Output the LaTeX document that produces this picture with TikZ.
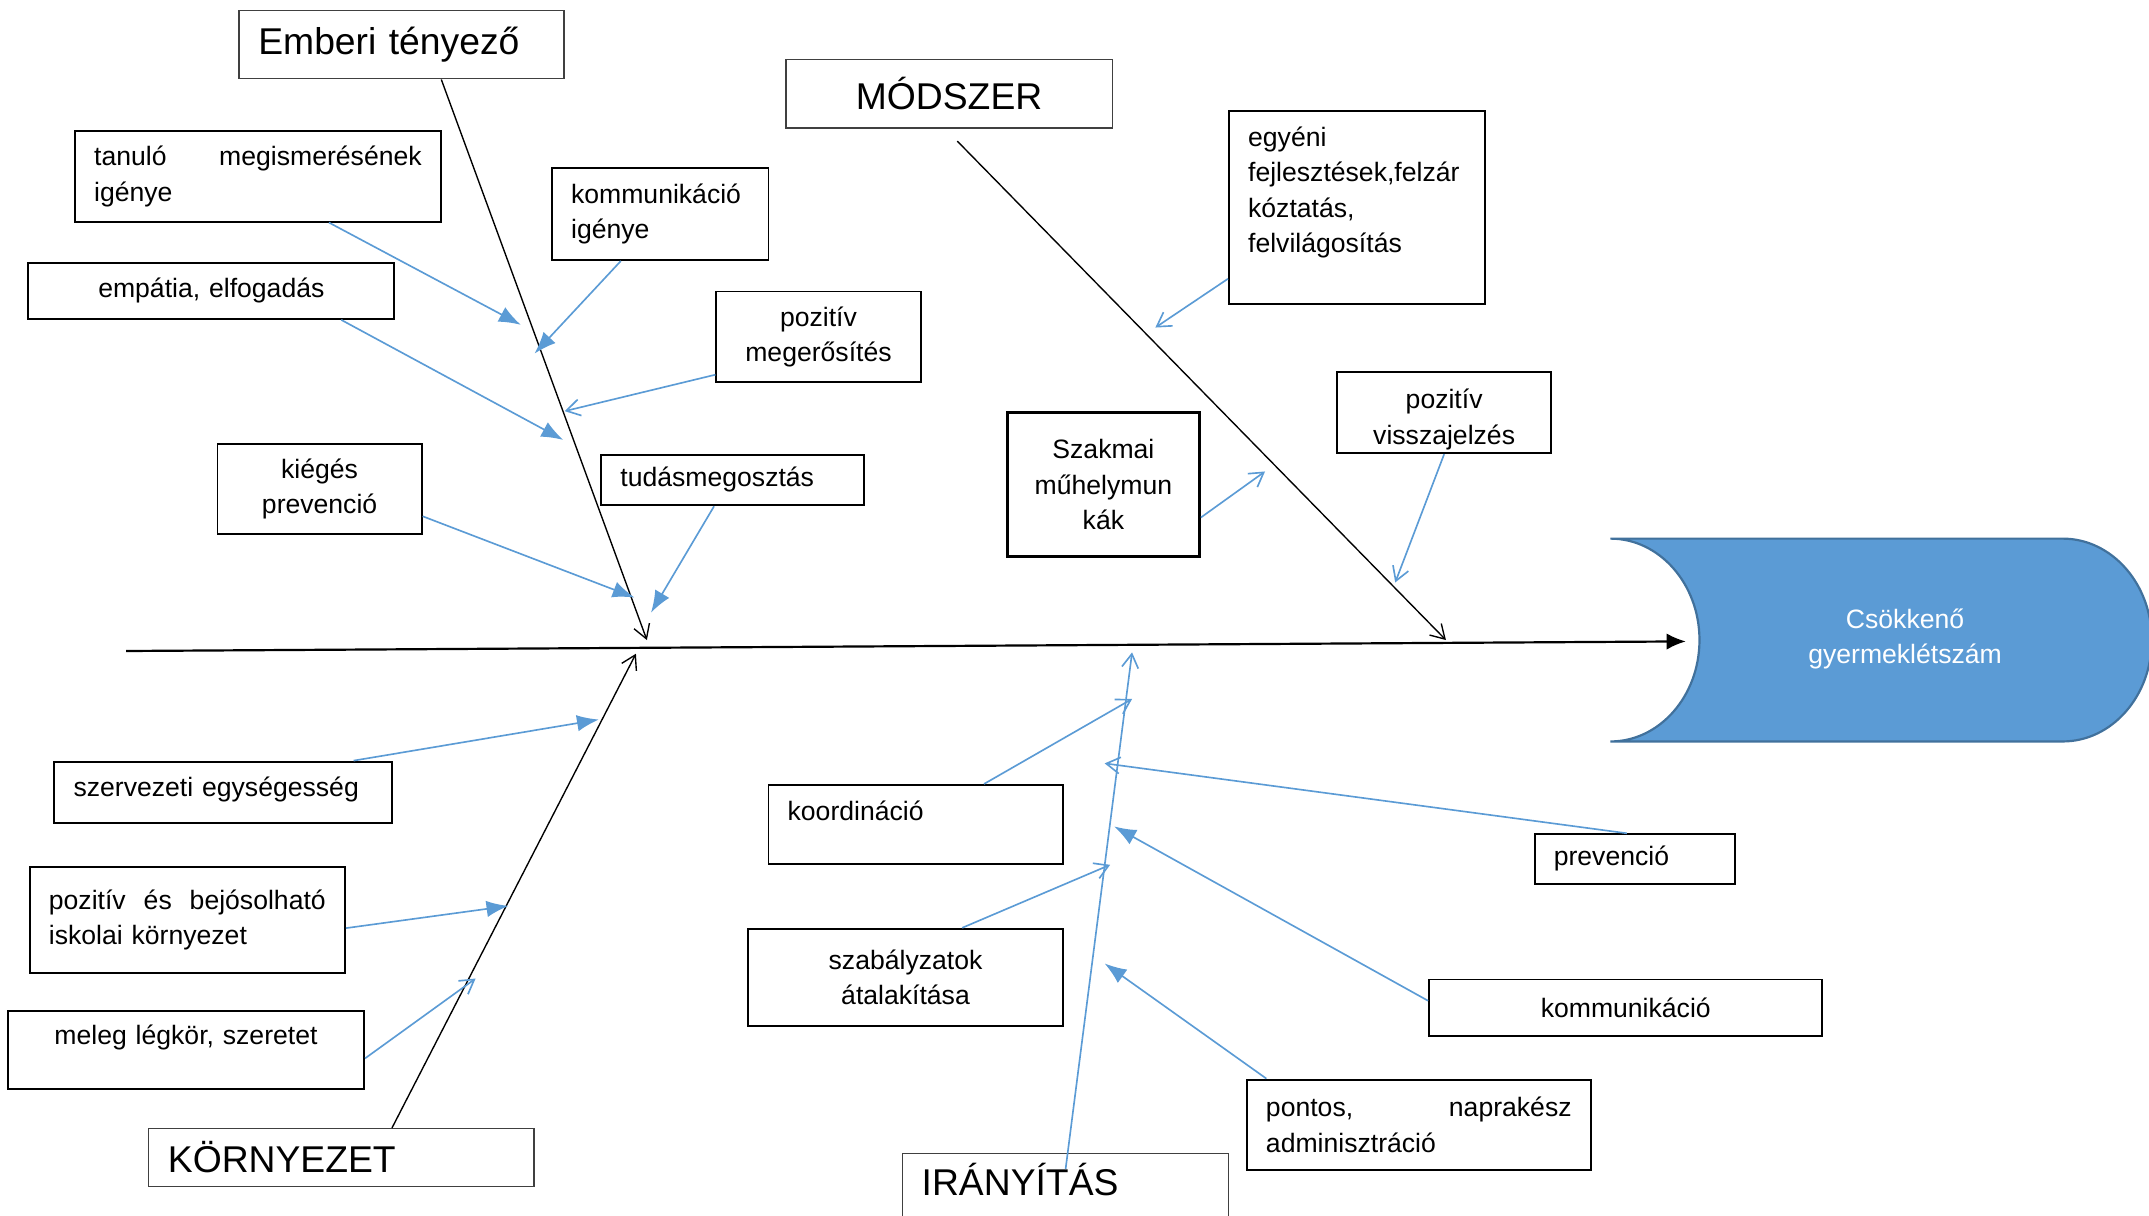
\documentclass[tikz,border=0pt]{standalone}
\usepackage{fontspec}
\setmainfont{Liberation Sans}
\usetikzlibrary{arrows.meta}
\definecolor{twigblue}{HTML}{5B9BD5}
\definecolor{edgeblue}{HTML}{41719C}
\newcommand\boxfont{\fontsize{9.7}{12.9}\selectfont}
\newcommand\headfont{\fontsize{13.6}{16}\selectfont}

\begin{document}
\begin{tikzpicture}[x=0.5pt,y=-0.5pt,
    box/.style={draw,line width=0.7pt,anchor=north west,inner xsep=7pt,inner ysep=0pt,font=\boxfont},
    head/.style={box,draw=black!75,line width=0.5pt,font=\headfont},
    bone/.style={line width=0.5pt,-{Straight Barb[length=5pt,width=6pt]}},
    twig/.style={twigblue,line width=0.6pt,-{Latex[length=8pt,width=6pt]}},
    opentwig/.style={twigblue,line width=0.6pt,-{Straight Barb[length=5pt,width=6pt]}}]
\useasboundingbox (0,0) rectangle (1568,887);
% result
\draw[fill=twigblue,draw=edgeblue,line width=0.8pt] (1175,393) -- (1505,393)
    arc[start angle=90,end angle=-90,x radius=32.5pt,y radius=37pt] -- (1175,541)
    arc[start angle=-90,end angle=90,x radius=32.5pt,y radius=37pt] -- cycle;
\node[font=\boxfont,text=white,align=center] (result) at (1390,466) {Csökkenő\\gyermeklétszám};
% spine
\coordinate (tail) at (92,475);
\coordinate (head) at (1230,468);
\draw[line width=0.8pt,-{Latex[length=7pt,width=6pt]}] (tail) -- (head);
% categories
\node[head,text width=104.5pt,minimum height=25pt,align=left] (emberi) at (174,7) {Emberi tényező};
\node[head,text width=105pt,minimum height=25pt,align=center] (modszer) at (573,43) {MÓDSZER};
\node[head,text width=126.5pt,minimum height=21pt,align=left] (kornyezet) at (108,823) {KÖRNYEZET};
\node[head,text width=105pt,minimum height=23pt,text depth=4pt,align=left] (iranyitas) at (658,841) {IRÁNYÍTÁS};
% causes
\node[box,text width=119.5pt,minimum height=33pt,align=left] (tanulo) at (54,95) {tanuló\hfill megismerésének\\igénye};
\node[box,text width=65pt,minimum height=33.5pt,align=left] (kommig) at (402,122) {kommunikáció\\igénye};
\node[box,text width=119.5pt,minimum height=20.5pt,align=center] (empatia) at (20,191) {empátia, elfogadás};
\node[box,text width=60.5pt,minimum height=33pt,align=center] (megerosites) at (522,212) {pozitív\\megerősítés};
\node[box,text width=60.5pt,minimum height=33pt,align=center] (kieges) at (158,323) {kiégés\\prevenció};
\node[box,text width=82pt,minimum height=18.5pt,align=left] (tudas) at (438,331) {tudásmegosztás};
\node[box,text width=79.5pt,minimum height=70.5pt,align=left] (egyeni) at (896,80) {egyéni\\fejlesztések,felzár\\kóztatás,\\felvilágosítás\\\mbox{}};
\node[box,text width=64pt,minimum height=29.5pt,align=center] (visszajelzes) at (975,271) {\rule{0pt}{12pt}pozitív\\visszajelzés};
\node[box,line width=1.1pt,text width=56pt,minimum height=52.5pt,align=center] (szakmai) at (734,300) {Szakmai\\műhelymun\\kák};
\node[box,text width=109pt,minimum height=22.5pt,text depth=4.5pt,align=left] (szervezeti) at (39,555) {szervezeti egységesség};
\node[box,text width=101pt,minimum height=38.5pt,align=left] (pozkorny) at (21,632) {pozitív\hfill és\hfill bejósolható\\iskolai környezet};
\node[box,text width=116pt,minimum height=28.5pt,text depth=11.5pt,align=center] (meleg) at (5,737) {meleg légkör, szeretet};
\node[box,text width=93.5pt,minimum height=29pt,text depth=10pt,align=left] (koord) at (560,572) {koordináció};
\node[box,text width=101pt,minimum height=35.5pt,align=center] (szabaly) at (545,677) {szabályzatok\\átalakítása};
\node[box,text width=59pt,minimum height=18pt,align=left] (prevencio) at (1119,608) {prevenció};
\node[box,text width=129.5pt,minimum height=20.5pt,align=center] (kommunikacio) at (1042,714) {kommunikáció};
\node[box,text width=111.5pt,minimum height=33pt,align=left] (pontos) at (909,787) {pontos,\hfill naprakész\\adminisztráció};
% bones
\coordinate (e1) at (472,467);
\coordinate (m1) at (1055,467);
\coordinate (k1) at (464,477);
\coordinate (i1) at (826,476);
\draw[bone] (322,0 |- emberi.south) -- (e1);
\draw[bone] ([shift={(6,9)}]modszer.south) -- (m1);
\draw[bone] (286,0 |- kornyezet.north) -- (k1);
\draw[opentwig] ([yshift=-6pt]iranyitas.north) -- (i1);
% twigs
\coordinate (a1) at (380,237);
\coordinate (a2) at (390,258);
\coordinate (a3) at (411,321);
\coordinate (a4) at (412,300);
\coordinate (a5) at (463,436);
\coordinate (a6) at (475,447);
\coordinate (b1) at (843,239);
\coordinate (b2) at (923,344);
\coordinate (b3) at (1018,425);
\coordinate (c1) at (437,525);
\coordinate (c2) at (371,661);
\coordinate (c3) at (347,714);
\coordinate (d1) at (826,510);
\coordinate (d2) at (810,631);
\coordinate (d3) at (806,557);
\coordinate (d4) at (813,603);
\coordinate (d5) at (806,703);
\draw[twig] (240,0 |- tanulo.south) -- (a1);
\draw[twig] (453,0 |- kommig.south) -- (a2);
\draw[twig] (249,0 |- empatia.south) -- (a3);
\draw[opentwig] ([yshift=3pt]megerosites.south west) -- (a4);
\draw[twig] ([yshift=-10pt]kieges.east) -- (a5);
\draw[twig] (521,0 |- tudas.south) -- (a6);
\draw[opentwig] ([yshift=9.5pt]egyeni.south west) -- (b1);
\draw[opentwig] ([yshift=-12pt]szakmai.east) -- (b2);
\draw[opentwig] (visszajelzes.south) -- (b3);
\draw[twig] (258,0 |- szervezeti.north) -- (c1);
\draw[twig] ([yshift=-3pt]pozkorny.east) -- (c2);
\draw[opentwig] ([yshift=-3pt]meleg.east) -- (c3);
\draw[opentwig] (718,0 |- koord.north) -- (d1);
\draw[opentwig] (702,0 |- szabaly.north) -- (d2);
\draw[opentwig] (1187,0 |- prevencio.north) -- (d3);
\draw[twig] ([yshift=2.5pt]kommunikacio.west) -- (d4);
\draw[twig] (924,0 |- pontos.north) -- (d5);
\end{tikzpicture}
\end{document}
